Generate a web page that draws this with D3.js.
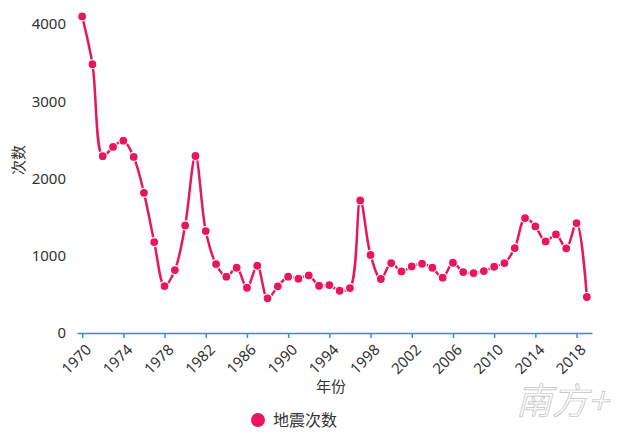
<!DOCTYPE html>
<html><head><meta charset="utf-8">
<script src="https://cdn.jsdelivr.net/npm/d3@7"></script>
<style>
body{margin:0;background:#fff;}
text{font-family:"Segoe UI","Noto Sans","Noto Sans CJK SC",sans-serif;}
</style></head>
<body>
<svg id="c" width="621" height="443"></svg>
<script>
const years = d3.range(1970, 2020);
const counts = [4100,3480,2290,2410,2490,2280,1815,1177,608,815,1393,2292,1320,893,729,845,586,871,449,604,729,703,746,612,621,547,582,1716,1011,699,906,798,862,897,845,716,910,789,776,802,858,906,1100,1488,1380,1186,1277,1096,1423,466];
const yTicks = [0,1000,2000,3000,4000];
const xTicks = d3.range(1970, 2019, 4);
const seriesName = "地震次数";
const color = "#e8175d";
const axisColor = "#1e9bd7";

const svg = d3.select("#c");
const x = d3.scaleLinear().domain([1969.5, 2019.5]).range([77, 592]);
const y = d3.scaleLinear().domain([0, 4105]).range([333, 16]);
const data = years.map((yr,i)=>({yr, v:counts[i]}));

// y axis labels (no line)
const ya = svg.append("g").attr("transform","translate(77,0)")
  .call(d3.axisLeft(y).tickValues(yTicks).tickSize(0).tickPadding(11).tickFormat(d3.format("d")));
ya.select(".domain").remove();
ya.selectAll("text").attr("font-size",15).attr("fill","#333").style("font-family",'"Segoe UI","Noto Sans",sans-serif');

// x axis
const xa = svg.append("g").attr("transform","translate(0,333)")
  .call(d3.axisBottom(x).tickValues(xTicks).tickSize(5).tickSizeOuter(0).tickFormat(d3.format("d")));
xa.select(".domain").attr("stroke",axisColor).attr("stroke-width",1.5);
xa.selectAll(".tick line").attr("stroke",axisColor).attr("stroke-width",1.5);
xa.selectAll("text").attr("font-size",15).attr("fill","#333")
  .attr("text-anchor","end").attr("dy","0.35em")
  .attr("transform","translate(6,14) rotate(-45)").attr("y",0).attr("x",0);

// axis titles
svg.append("text").attr("x",331).attr("y",392).attr("text-anchor","middle")
  .attr("font-size",15).attr("fill","#333").style("font-family",'"Noto Sans CJK SC",sans-serif').text("年份");
svg.append("text").attr("transform","translate(24,160) rotate(-90)").attr("text-anchor","middle")
  .attr("font-size",15).attr("fill","#333").style("font-family",'"Noto Sans CJK SC",sans-serif').text("次数");

// line
const line = d3.line().x(d=>x(d.yr)).y(d=>y(d.v)).curve(d3.curveCatmullRom.alpha(0.5));
svg.append("path").datum(data).attr("d",line).attr("fill","none")
  .attr("stroke",color).attr("stroke-width",2.5);

svg.append("g").selectAll("circle").data(data).join("circle")
  .attr("cx",d=>x(d.yr)).attr("cy",d=>y(d.v)).attr("r",4.5)
  .attr("fill",color).attr("stroke","#fff").attr("stroke-width",1.2);

// legend
svg.append("circle").attr("cx",258).attr("cy",420).attr("r",7).attr("fill",color);
svg.append("text").attr("x",273).attr("y",420).attr("dy","0.35em").attr("font-size",16)
  .attr("fill","#333").style("font-family",'"Noto Sans CJK SC",sans-serif').text(seriesName);

// watermark
svg.append("text").attr("x",516).attr("y",414).attr("font-size",36)
  .attr("fill","#fafafa").attr("stroke","#c4c4c4").attr("stroke-width",0.7)
  .attr("font-style","italic")
  .style("font-family",'"Noto Sans CJK SC",sans-serif').text("南方+");
</script>
</body></html>
